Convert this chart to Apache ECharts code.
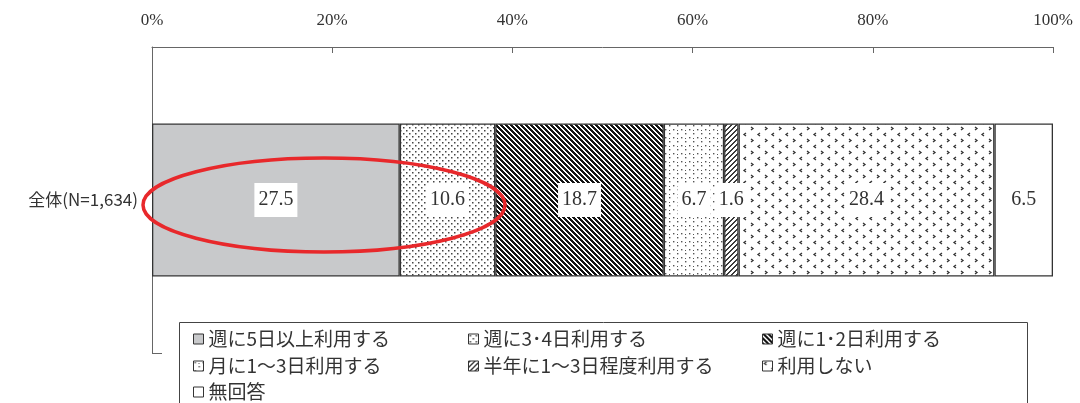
<!DOCTYPE html>
<html><head><meta charset="utf-8">
<script src="https://cdn.jsdelivr.net/npm/echarts@6/dist/echarts.min.js"></script>
<style>html,body{margin:0;padding:0;background:#fff}#c{width:1080px;height:403px}</style>
</head><body><div id="c"></div>
<script>
const categories = ['全体(N=1,634)'];
const seriesNames = ['週に5日以上利用する','週に3･4日利用する','週に1･2日利用する','月に1～3日利用する','半年に1～3日程度利用する','利用しない','無回答'];
const seriesValues = [27.5, 10.6, 18.7, 6.7, 1.6, 28.4, 6.5];
const tickLabels = ['0%','20%','40%','60%','80%','100%'];

function tile(w, h, draw) {
  const c = document.createElement('canvas');
  c.width = w; c.height = h;
  const g = c.getContext('2d');
  g.fillStyle = '#fff'; g.fillRect(0, 0, w, h);
  draw(g, w, h);
  return { image: c, repeat: 'repeat' };
}
const fills = [
  '#c8c9cb',
  tile(6, 6, g => { g.fillStyle = '#444'; g.fillRect(1,1,1.5,1.5); g.fillRect(4,4,1.5,1.5); }),
  tile(10, 10, g => { const d = g.getImageData(0,0,10,10); for (let y=0;y<10;y++) for (let x=0;x<10;x++){ if ((((x - y) % 5) + 5) % 5 < 2.5) { const i=(y*10+x)*4; d.data[i]=d.data[i+1]=d.data[i+2]=20; } } g.putImageData(d,0,0); }),
  tile(8, 8, g => { g.fillStyle = '#555'; g.fillRect(1,1,1.4,1.4); g.fillRect(5,5,1.4,1.4); g.fillRect(5,2,1,1); }),
  tile(5, 5, g => { const d = g.getImageData(0,0,5,5); for (let y=0;y<5;y++) for (let x=0;x<5;x++){ if ((x + y) % 5 < 2) { const i=(y*5+x)*4; d.data[i]=d.data[i+1]=d.data[i+2]=60; } } g.putImageData(d,0,0); }),
  tile(14, 12, g => { g.strokeStyle = '#333'; g.lineWidth = 1.3; g.beginPath(); g.moveTo(4,1); g.lineTo(2,2.5); g.lineTo(4,4); g.moveTo(9,7); g.lineTo(11,8.5); g.lineTo(9,10); g.stroke(); }),
  '#ffffff'
];

const chart = echarts.init(document.getElementById('c'));
const serif = '"Liberation Serif","DejaVu Serif",serif';
const legendText = { fontFamily: '"Noto Sans CJK JP",sans-serif', fontSize: 19, color: '#333', lineHeight: 20 };
// legend placement: [series index, left, top]
const legendPos = [[0,188,324],[1,463,324],[2,757,324],[3,188,351],[4,463,351],[5,757,351],[6,188,377]];
chart.setOption({
  animation: false,
  grid: { left: 152, right: 27, top: 47, bottom: 50 },
  xAxis: {
    type: 'value', position: 'top', min: 0, max: 100, interval: 20,
    axisLine: { show: true, lineStyle: { color: '#666', width: 1 } },
    axisTick: { show: true, inside: true, length: 6, lineStyle: { color: '#666' } },
    splitLine: { show: false },
    axisLabel: { margin: 18, fontFamily: serif, fontSize: 17, color: '#333',
      formatter: (v) => tickLabels[Math.round(v / 20)] }
  },
  yAxis: {
    type: 'category', data: categories, inverse: true,
    axisLine: { show: true, lineStyle: { color: '#666', width: 1 } },
    axisTick: { show: true, inside: true, length: 10, lineStyle: { color: '#666' } },
    axisLabel: { margin: 14, fontFamily: '"Noto Sans CJK JP",sans-serif', fontSize: 17, color: '#333' }
  },
  legend: legendPos.map(([i, l, t]) => ({
    left: l, top: t, itemGap: 0,
    itemWidth: 10, itemHeight: 10, itemStyle: { borderColor: '#333', borderWidth: 1 },
    icon: 'rect', textStyle: legendText,
    data: [seriesNames[i]]
  })),
  graphic: [
    { type: 'rect', shape: { x: 179.5, y: 322.5, width: 848, height: 100 }, style: { fill: 'none', stroke: '#444', lineWidth: 1 }, z: 0, silent: true },
    { type: 'ellipse', shape: { cx: 324, cy: 205, rx: 181, ry: 47 }, style: { fill: 'none', stroke: '#e8282b', lineWidth: 3.5 }, z: 100, silent: true }
  ],
  series: seriesNames.map((name, i) => ({
    name, type: 'bar', stack: 'all', barWidth: '50%',
    data: [seriesValues[i]],
    itemStyle: { color: fills[i], borderColor: '#333', borderWidth: 1.3 },
    label: { show: true, position: 'inside', formatter: (p) => p.value.toFixed(1),
      fontFamily: serif, fontSize: 20, color: '#333', backgroundColor: '#fff', padding: [7, 4] }
  }))
});
</script></body></html>
